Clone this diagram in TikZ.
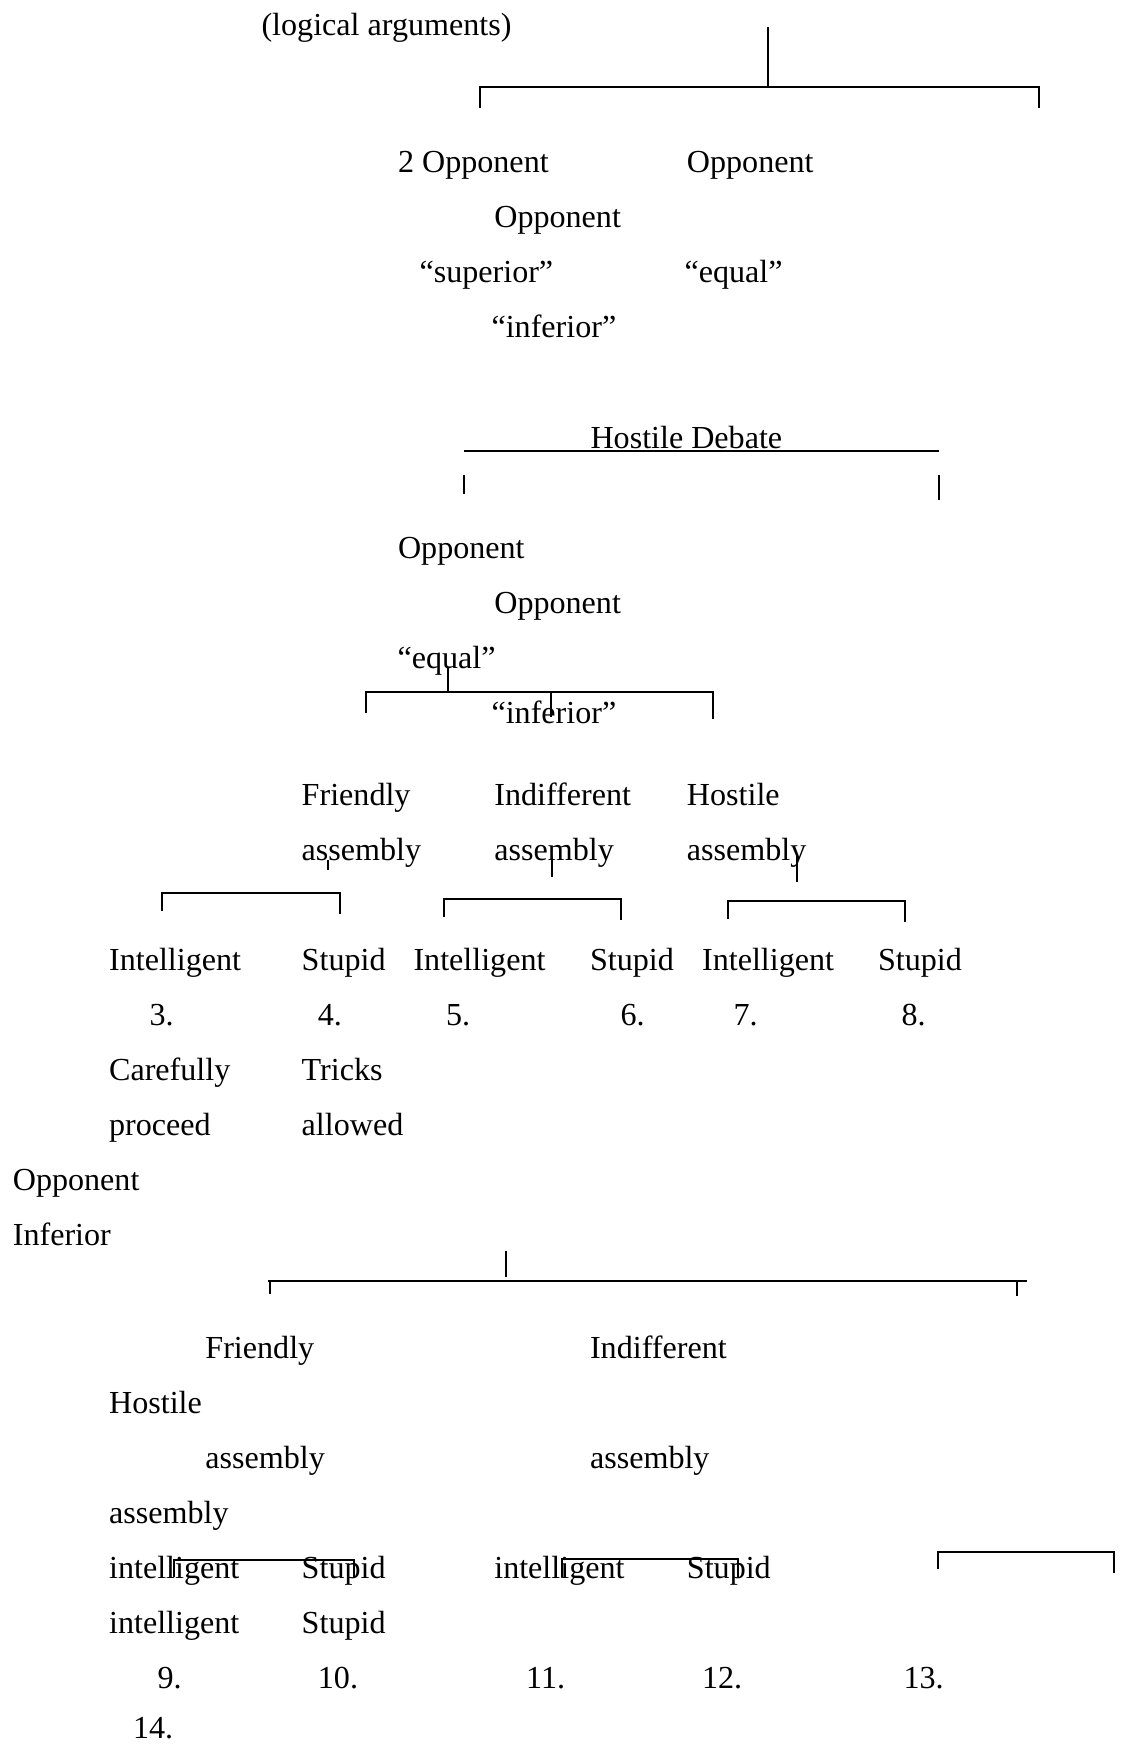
\documentclass[tikz,border=0pt]{standalone}
\usepackage{fontspec}
\setmainfont{Liberation Serif}
\usepackage{tikz}
\tikzset{
  lbl/.style={anchor=base west, inner sep=0pt, yshift=-0.7pt, font=\fontsize{12pt}{14pt}\selectfont},
  bar/.style={line width=0.8pt},
  tick/.style={line width=0.6pt},
}

\begin{document}
\begin{tikzpicture}[x=0.3738pt, y=-0.3738pt]%
\useasboundingbox (0,0) rectangle (1127,1746);%
% first level
\node[lbl] (logic) at (261, 33.5) {(logical arguments)};%
\node[lbl] (opsup) at (397.5, 170.5) {2 Opponent};%
\node[lbl] (opeq) at (686.4, 170.5) {Opponent};%
\node[lbl] (opinf) at (493.8, 225.5) {Opponent};%
\node[lbl] (sup) at (419, 280.5) {“superior”};%
\node[lbl] (eq) at (684, 280.5) {“equal”};%
\node[lbl] (inf) at (491, 335.5) {“inferior”};%
% hostile debate
\node[lbl] (debate) at (590, 447) {Hostile Debate};%
\node[lbl] (hdeq) at (397.5, 557) {Opponent};%
\node[lbl] (hdinf) at (493.8, 612) {Opponent};%
\node[lbl] (hdeqq) at (397, 667) {“equal”};%
\node[lbl] (hdinfq) at (491, 722) {“inferior”};%
% assemblies
\node[lbl] (fr) at (301.2, 804) {Friendly};%
\node[lbl] (ind) at (493.8, 804) {Indifferent};%
\node[lbl] (hos) at (686.4, 804) {Hostile};%
\node[lbl] (frasm) at (301.2, 859) {assembly};%
\node[lbl] (indasm) at (493.8, 859) {assembly};%
\node[lbl] (hosasm) at (686.4, 859) {assembly};%
\node[lbl] (i3) at (108.6, 969) {Intelligent};%
\node[lbl] (s4) at (301.2, 969) {Stupid};%
\node[lbl] (i5) at (413, 969) {Intelligent};%
\node[lbl] (s6) at (589.5, 969) {Stupid};%
\node[lbl] (i7) at (701.6, 969) {Intelligent};%
\node[lbl] (s8) at (877.5, 969) {Stupid};%
\node[lbl] (n3) at (149, 1024) {3.};%
\node[lbl] (n4) at (317.4, 1024) {4.};%
\node[lbl] (n5) at (445.5, 1024) {5.};%
\node[lbl] (n6) at (620, 1024) {6.};%
\node[lbl] (n7) at (733, 1024) {7.};%
\node[lbl] (n8) at (901, 1024) {8.};%
\node[lbl] (care) at (108.6, 1079) {Carefully};%
\node[lbl] (trick) at (301.2, 1079) {Tricks};%
\node[lbl] (proc) at (108.6, 1134) {proceed};%
\node[lbl] (allow) at (301.2, 1134) {allowed};%
% inferior opponent
\node[lbl] (lowop) at (12.3, 1189) {Opponent};%
\node[lbl] (lowinf) at (12.3, 1244) {Inferior};%
\node[lbl] (lfr) at (204.9, 1357) {Friendly};%
\node[lbl] (lind) at (589.5, 1357) {Indifferent};%
\node[lbl] (lhos) at (108.6, 1412) {Hostile};%
\node[lbl] (lfrasm) at (204.9, 1467) {assembly};%
\node[lbl] (lindasm) at (589.5, 1467) {assembly};%
\node[lbl] (lhosasm) at (108.6, 1522) {assembly};%
\node[lbl] (li9) at (108.6, 1577) {intelligent};%
\node[lbl] (ls10) at (301.2, 1577) {Stupid};%
\node[lbl] (li11) at (493.8, 1577) {intelligent};%
\node[lbl] (ls12) at (686.4, 1577) {Stupid};%
\node[lbl] (li9b) at (108.6, 1632) {intelligent};%
\node[lbl] (ls10b) at (301.2, 1632) {Stupid};%
\node[lbl] (n9) at (157, 1687) {9.};%
\node[lbl] (n10) at (317.4, 1687) {10.};%
\node[lbl] (n11) at (525.7, 1687) {11.};%
\node[lbl] (n12) at (701.6, 1687) {12.};%
\node[lbl] (n13) at (903, 1687) {13.};%
\node[lbl] (n14) at (132.5, 1737) {14.};%
% brackets
\draw[tick] (768, 27) -- (768, 87);%
\draw[bar] (480, 108) |- (1039, 87) -- (1039, 108);%
\draw[bar] (464, 451) -- (939, 451);%
\draw[tick] (464, 475) -- (464, 494);%
\draw[tick] (939, 475) -- (939, 500);%
\draw[tick] (448, 667) -- (448, 692);%
\draw[bar] (366, 713) |- (713, 692) -- (713, 719);%
\draw[tick] (551, 693) -- (551, 717);%
\draw[tick] (328, 860) -- (328, 870);%
\draw[bar] (162, 911) |- (340, 893) -- (340, 914);%
\draw[tick] (552, 857) -- (552, 877);%
\draw[bar] (444, 917) |- (621, 899) -- (621, 920);%
\draw[tick] (797, 855) -- (797, 882);%
\draw[bar] (728, 919) |- (905, 901) -- (905, 922);%
\draw[tick] (506, 1251) -- (506, 1277);%
\draw[bar] (268, 1281) -- (1027, 1281);%
\draw[tick] (270, 1281) -- (270, 1294);%
\draw[tick] (1017, 1281) -- (1017, 1296);%
\draw[bar] (174, 1577) |- (354, 1560) -- (354, 1577);%
\draw[bar] (562, 1577) |- (738, 1559) -- (738, 1577);%
\draw[bar] (938, 1569) |- (1114, 1552) -- (1114, 1573);%
\end{tikzpicture}
\end{document}
